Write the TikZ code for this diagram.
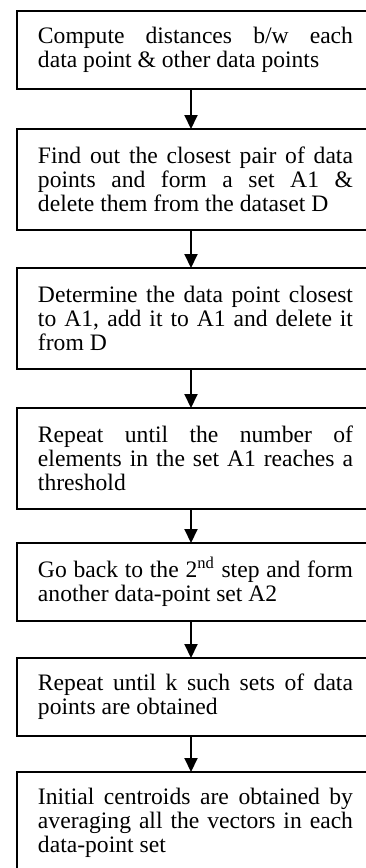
\documentclass[tikz,border=0pt]{standalone}
\usepackage{fontspec}
\setmainfont{Liberation Serif}
\usetikzlibrary{arrows.meta}
\tolerance=10000
\hbadness=10000
\hyphenpenalty=10000
\begin{document}
\begin{tikzpicture}[x=0.5pt,y=-0.5pt,
  stepbox/.style={rectangle, anchor=north west, outer sep=0pt,
    inner xsep=10.5pt, inner ysep=0pt, text width=157.5pt, align=justify,
    font=\fontsize{11.8pt}{12pt}\selectfont},
  two/.style={minimum height=39pt},
  three/.style={minimum height=50.5pt},
  boxline/.style={line width=1pt},
  arr/.style={line width=1pt, -{Triangle[width=6.5pt,length=7pt]}}]
\fill[white] (0,0) rectangle (365,868);
\useasboundingbox (0,0) rectangle (365,868);
\coordinate (ax) at (191,0);
\node[stepbox,two] (b1) at (17,11) {Compute distances b/w each\linebreak data point \& other data points};
\node[stepbox,three] (b2) at (17,129) {Find out the closest pair of data\linebreak points and form a set A1 \&\linebreak delete them from the dataset D};
\node[stepbox,three] (b3) at (17,268) {Determine the data point closest\linebreak to A1, add it to A1 and delete it\linebreak from D};
\node[stepbox,three] (b4) at (17,408) {Repeat until the number of\linebreak elements in the set A1 reaches a\linebreak threshold};
\node[stepbox,two] (b5) at (17,543) {Go back to the 2\textsuperscript{nd} step and form\linebreak another data-point set A2};
\node[stepbox,two] (b6) at (17,658) {Repeat until k such sets of data\linebreak points are obtained};
\node[stepbox,three] (b7) at (17,772) {Initial centroids are obtained by\linebreak averaging all the vectors in each\linebreak data-point set};
\foreach \b in {b1,b2,b3,b4,b5,b6,b7}
  \draw[boxline] (\b.north east) -- (\b.north west) -- (\b.south west) -- (\b.south east);
\draw[arr] (b1.south -| ax) -- (b2.north -| ax);
\draw[arr] (b2.south -| ax) -- (b3.north -| ax);
\draw[arr] (b3.south -| ax) -- (b4.north -| ax);
\draw[arr] (b4.south -| ax) -- (b5.north -| ax);
\draw[arr] (b5.south -| ax) -- (b6.north -| ax);
\draw[arr] (b6.south -| ax) -- (b7.north -| ax);
\end{tikzpicture}
\end{document}
